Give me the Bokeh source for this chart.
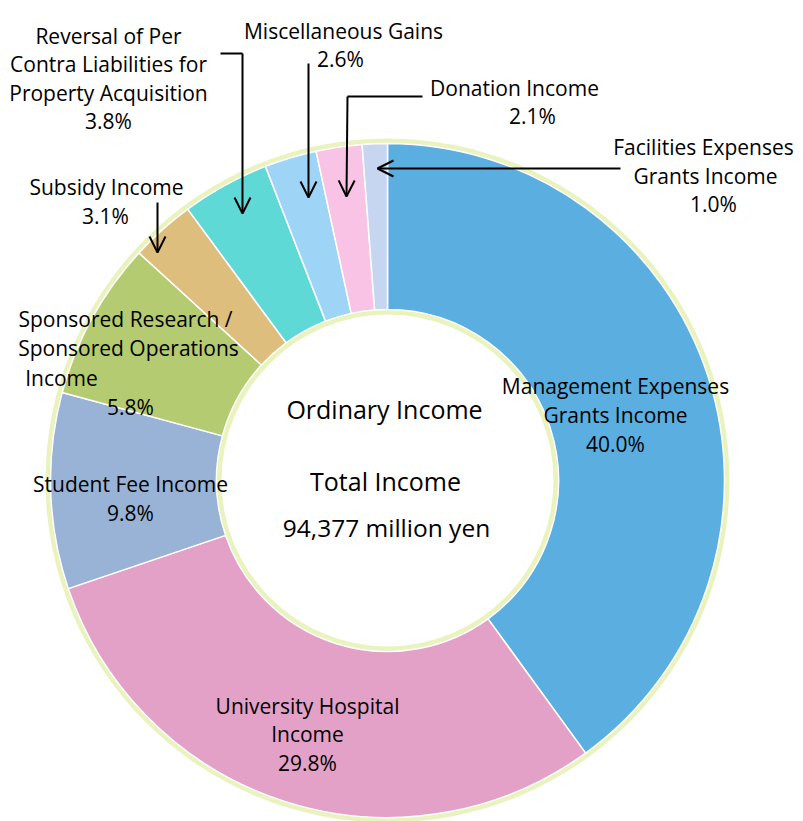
import math
from bokeh.plotting import figure
from bokeh.models import Range1d, Arrow, OpenHead, ColumnDataSource
from bokeh.embed import file_html
from bokeh.resources import INLINE
from bokeh.core.properties import value

W, H = 803, 821

# ---------------- data ----------------
categories = [
    "Management Expenses Grants Income",
    "University Hospital Income",
    "Student Fee Income",
    "Sponsored Research / Sponsored Operations Income",
    "Subsidy Income",
    "Reversal of Per Contra Liabilities for Property Acquisition",
    "Miscellaneous Gains",
    "Donation Income",
    "Facilities Expenses Grants Income",
]
label_pct = [40.0, 29.8, 9.8, 5.8, 3.1, 3.8, 2.6, 2.1, 1.0]
# slice sizes as drawn in the picture (share of the ring, %)
slice_share = [40.0, 29.8, 9.4, 7.6, 3.1, 4.2, 2.5, 2.2, 1.2]
label_lines = [
    ["Management Expenses", "Grants Income"],
    ["University Hospital", "Income"],
    ["Student Fee Income"],
    ["Sponsored Research /", "Sponsored Operations", "Income"],
    ["Subsidy Income"],
    ["Reversal of Per", "Contra Liabilities for", "Property Acquisition"],
    ["Miscellaneous Gains"],
    ["Donation Income"],
    ["Facilities Expenses", "Grants Income"],
]
center_lines = ["Ordinary Income", "Total Income", "94,377 million yen"]

# ---------------- styles / layout ----------------
colors = ["#5BAEE0", "#E3A1C8", "#99B3D6", "#B4CB71", "#DEBE7D",
          "#5FD9D6", "#9ED5F7", "#F9C3E6", "#C6D6F0"]
CX, CY_IMG = 387, 480
R_OUT, R_IN = 337, 171
FONT = "Open Sans"
FS = "21px"

# label line positions (x centre, baseline y in image pixels)
label_pos = [
    [(615, 385), (615, 414), (615, 443)],
    [(307, 705), (307, 733), (307, 762)],
    [(130, 483), (130, 512)],
    [(125, 318), (128, 347), (61, 377), (130, 406)],
    [(106, 186), (105, 215)],
    [(108, 35), (108, 63), (108, 92), (108, 120)],
    [(343, 30), (340, 58)],
    [(514, 87), (532, 115)],
    [(703, 146), (705, 175), (713, 203)],
]
center_pos = [(384, 408, "25px"), (385, 480, "25px"), (386, 527, "24.5px")]


def Y(y_img):
    return H - y_img


p = figure(width=W, height=H, x_range=Range1d(0, W), y_range=Range1d(0, H),
           output_backend="svg", toolbar_location=None, min_border=0)
p.axis.visible = False
p.grid.visible = False
p.outline_line_color = None
p.background_fill_color = "white"
p.border_fill_color = "white"

cy = Y(CY_IMG)

# soft glow around ring edges
p.annulus(x=[CX], y=[cy], inner_radius=R_OUT - 2, outer_radius=R_OUT + 5,
          fill_color="#EAF2BE", line_color=None)
p.annulus(x=[CX], y=[cy], inner_radius=R_IN - 5, outer_radius=R_IN + 2,
          fill_color="#EAF2BE", line_color=None)

total = sum(slice_share)
starts, ends = [], []
cum = 0.0
for s in slice_share:
    starts.append(math.pi / 2 - 2 * math.pi * cum / total)
    cum += s
    ends.append(math.pi / 2 - 2 * math.pi * cum / total)

src = ColumnDataSource(dict(start=starts, end=ends, color=colors, name=categories))
p.annular_wedge(x=CX, y=cy, inner_radius=R_IN, outer_radius=R_OUT,
                start_angle="start", end_angle="end", direction="clock",
                fill_color="color", line_color="white", line_width=1.5,
                source=src)

# labels
for lines, pct, pos in zip(label_lines, label_pct, label_pos):
    texts = lines + [f"{pct:.1f}%"]
    for t, (x, y) in zip(texts, pos):
        p.text(x=[x], y=[Y(y)], text=[t], text_align="center",
               text_baseline="alphabetic", text_font=value(FONT),
               text_font_size=FS, text_color="#000000")

for t, (x, y, fs) in zip(center_lines, center_pos):
    p.text(x=[x], y=[Y(y)], text=[t], text_align="center",
           text_baseline="alphabetic", text_font=value(FONT),
           text_font_size=fs, text_color="#000000")

# leader lines and arrows
LW = 2
p.line(x=[220, 242], y=[Y(53), Y(53)], line_color="black", line_width=LW)
p.line(x=[422, 347], y=[Y(96), Y(96)], line_color="black", line_width=LW)

arrows = [
    (242, 53, 242, 213),   # reversal
    (308, 63, 308, 197),   # misc
    (347, 96, 346, 196),   # donation
    (620, 168, 377, 168),  # facilities
    (157, 202, 157, 252),  # subsidy
]
for x0, y0, x1, y1 in arrows:
    p.add_layout(Arrow(x_start=x0, y_start=Y(y0), x_end=x1, y_end=Y(y1),
                       line_color="black", line_width=LW,
                       end=OpenHead(size=16, line_color="black", line_width=LW)))

open("out.html", "w").write(file_html(p, INLINE))
